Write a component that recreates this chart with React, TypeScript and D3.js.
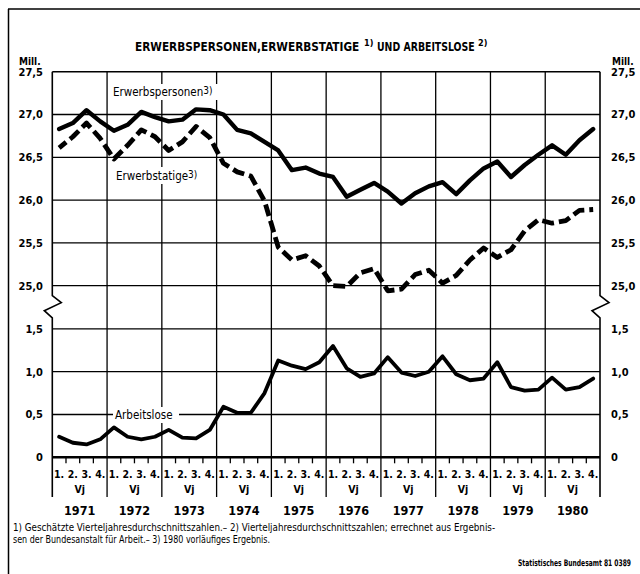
import React from "react";
import * as d3 from "d3";

const years = ["1971", "1972", "1973", "1974", "1975", "1976", "1977", "1978", "1979", "1980"];
const quarterLabels = ["1.", "2.", "3.", "4."];
const upperTicks = [25, 25.5, 26, 26.5, 27, 27.5];
const upperTickLabels = ["25,0", "25,5", "26,0", "26,5", "27,0", "27,5"];
const lowerTicks = [0, 0.5, 1, 1.5];
const lowerTickLabels = ["0", "0,5", "1,0", "1,5"];

const erwerbspersonen = [
  26.83, 26.9, 27.05, 26.92, 26.81, 26.88, 27.03, 26.97, 26.92, 26.94,
  27.06, 27.05, 27.0, 26.82, 26.78, 26.68, 26.58, 26.35, 26.38, 26.31,
  26.27, 26.04, 26.12, 26.2, 26.1, 25.96, 26.08, 26.16, 26.21, 26.07,
  26.23, 26.37, 26.45, 26.27, 26.41, 26.53, 26.64, 26.53, 26.7, 26.83,
];
const erwerbstaetige = [
  26.61, 26.74, 26.9, 26.72, 26.48, 26.64, 26.82, 26.74, 26.58, 26.68,
  26.86, 26.73, 26.43, 26.33, 26.28, 25.99, 25.45, 25.3, 25.35, 25.23,
  25.0, 24.99, 25.15, 25.2, 24.94, 24.96, 25.13, 25.18, 25.03, 25.12,
  25.3, 25.44, 25.33, 25.42, 25.64, 25.77, 25.73, 25.76, 25.88, 25.89,
];
const arbeitslose = [
  0.24, 0.17, 0.15, 0.21, 0.35, 0.24, 0.21, 0.24, 0.32, 0.23,
  0.22, 0.32, 0.59, 0.52, 0.52, 0.75, 1.13, 1.07, 1.03, 1.11,
  1.3, 1.04, 0.94, 0.98, 1.17, 0.99, 0.95, 1.0, 1.18, 0.97,
  0.9, 0.92, 1.11, 0.82, 0.78, 0.79, 0.93, 0.79, 0.82, 0.92,
];

const FONT = "'Liberation Sans Narrow', 'DejaVu Sans Condensed', 'Roboto Condensed', 'Arial Narrow', 'Liberation Sans', sans-serif";

export default function App() {
  const W = 640;
  const H = 574;
  const x = d3.scaleLinear().domain([0, 40]).range([52.3, 600]);
  const yTop = d3.scaleLinear().domain([25, 27.5]).range([285.7, 71.7]);
  const yBot = d3.scaleLinear().domain([0, 1.5]).range([457.3, 328.9]);
  const left = x(0);
  const right = x(40);
  const top = yTop(27.5);
  const bottomExt = 497;

  const lineTop = d3
    .line<number>()
    .x((_, i) => x(i + 0.5))
    .y((d) => yTop(d));
  const lineBot = d3
    .line<number>()
    .x((_, i) => x(i + 0.5))
    .y((d) => yBot(d));

  const breakTop = yTop(25) + 10;
  const breakBot = yBot(1.5) - 11;
  const zig = (ax: number) =>
    `M${ax},${top} L${ax},${breakTop} L${ax + 9},${breakTop + 7} L${ax - 8},${breakTop + 15} L${ax},${breakBot} L${ax},${bottomExt}`;

  const gridW = 1.3;
  const yearIdx = d3.range(0, 11);
  const qIdx = d3.range(0, 40);

  return (
    <svg width={W} height={H} style={{ display: "block", position: "absolute", left: 0, top: 0, background: "#fff" }} fontFamily={FONT}>
      <rect x={0} y={0} width={W} height={H} fill="#fff" />
      {/* outer frame */}
      <line x1={8.5} y1={9} x2={8.5} y2={H} stroke="#000" strokeWidth={1.5} />
      <line x1={8} y1={9} x2={W} y2={9} stroke="#000" strokeWidth={1.5} />

      {/* title */}
      <text transform="translate(135,51) scale(0.9,1)" fontSize={13} fontWeight="bold">
        ERWERBSPERSONEN,ERWERBSTATIGE
      </text>
      <text x={364} y={46} fontSize={9} fontWeight="bold">1)</text>
      <text transform="translate(377,51) scale(0.8,1)" fontSize={13} fontWeight="bold">
        UND ARBEITSLOSE
      </text>
      <text x={478} y={46} fontSize={9} fontWeight="bold">2)</text>

      <text x={19} y={65} fontSize={10} fontWeight="bold">Mill.</text>
      <text x={612} y={65} fontSize={10} fontWeight="bold">Mill.</text>

      {/* horizontal gridlines upper */}
      {upperTicks.map((t, i) => (
        <g key={"ut" + i}>
          <line x1={left} x2={right} y1={yTop(t)} y2={yTop(t)} stroke="#000" strokeWidth={i === upperTicks.length - 1 ? 1.6 : gridW} />
          <text x={43} y={yTop(t)} dy="0.35em" textAnchor="end" fontSize={11} fontWeight="bold">{upperTickLabels[i]}</text>
          <text x={611} y={yTop(t)} dy="0.35em" textAnchor="start" fontSize={11} fontWeight="bold">{upperTickLabels[i]}</text>
        </g>
      ))}
      {/* horizontal gridlines lower */}
      {lowerTicks.map((t, i) => (
        <g key={"lt" + i}>
          <line x1={left} x2={right} y1={yBot(t)} y2={yBot(t)} stroke="#000" strokeWidth={i === 0 ? 2.6 : gridW} />
          <text x={43} y={yBot(t)} dy="0.35em" textAnchor="end" fontSize={11} fontWeight="bold">{lowerTickLabels[i]}</text>
          <text x={611} y={yBot(t)} dy="0.35em" textAnchor="start" fontSize={11} fontWeight="bold">{lowerTickLabels[i]}</text>
        </g>
      ))}

      {/* vertical year lines */}
      {yearIdx.slice(1, 10).map((k) => (
        <line key={"yl" + k} x1={x(k * 4)} x2={x(k * 4)} y1={top} y2={bottomExt} stroke="#000" strokeWidth={gridW} />
      ))}
      {/* axes with break */}
      <path d={zig(left)} fill="none" stroke="#000" strokeWidth={1.6} />
      <path d={zig(right)} fill="none" stroke="#000" strokeWidth={1.6} />

      {/* quarter ticks */}
      {qIdx.filter((q) => q % 4 !== 0).map((q) => (
        <line key={"qt" + q} x1={x(q)} x2={x(q)} y1={yBot(0)} y2={yBot(0) + 6} stroke="#000" strokeWidth={1.3} />
      ))}
      {qIdx.map((q) => (
        <text key={"ql" + q} x={x(q + 0.5)} y={478} textAnchor="middle" fontSize={10.5} fontWeight="bold">
          {quarterLabels[q % 4]}
        </text>
      ))}
      {years.map((yr, k) => (
        <g key={"yr" + yr}>
          <text x={x(k * 4 + 2)} y={493} textAnchor="middle" fontSize={10.5} fontWeight="bold">Vj</text>
          <text x={x(k * 4 + 2)} y={515} textAnchor="middle" fontSize={12.5} fontWeight="bold">{yr}</text>
        </g>
      ))}

      {/* series */}
      <path d={lineTop(erwerbspersonen) || ""} fill="none" stroke="#000" strokeWidth={4.4} strokeLinejoin="round" strokeLinecap="round" />
      <path d={lineTop(erwerbstaetige) || ""} fill="none" stroke="#000" strokeWidth={4.8} strokeDasharray="12,5" strokeDashoffset={3} strokeLinejoin="round" />
      <path d={lineBot(arbeitslose) || ""} fill="none" stroke="#000" strokeWidth={3.8} strokeLinejoin="round" strokeLinecap="round" />

      {/* series labels */}
      <rect x={111} y={84} width={108} height={16} fill="#fff" />
      <text x={113} y={96} fontSize={11.5}>
        Erwerbspersonen<tspan fontSize={10} dy={-2}>3)</tspan>
      </text>
      <rect x={114} y={167} width={86} height={17} fill="#fff" />
      <text x={116} y={180} fontSize={11.5}>
        Erwerbstatige<tspan fontSize={10} dy={-2}>3)</tspan>
      </text>
      <rect x={113} y={407} width={66} height={16} fill="#fff" />
      <text x={115} y={419} fontSize={11.5}>Arbeitslose</text>

      {/* footnotes */}
      <text transform="translate(13,531) scale(0.974,1)" fontSize={10}>
        1) Geschätzte Vierteljahresdurchschnittszahlen.– 2) Vierteljahresdurchschnittszahlen; errechnet aus Ergebnis-
      </text>
      <text transform="translate(13,543) scale(0.89,1)" fontSize={10}>
        sen der Bundesanstalt für Arbeit.– 3) 1980 vorläufiges Ergebnis.
      </text>
      <text transform="translate(631,566) scale(0.74,1)" textAnchor="end" fontSize={9} fontWeight="bold">
        Statistisches Bundesamt 81 0389
      </text>
    </svg>
  );
}
